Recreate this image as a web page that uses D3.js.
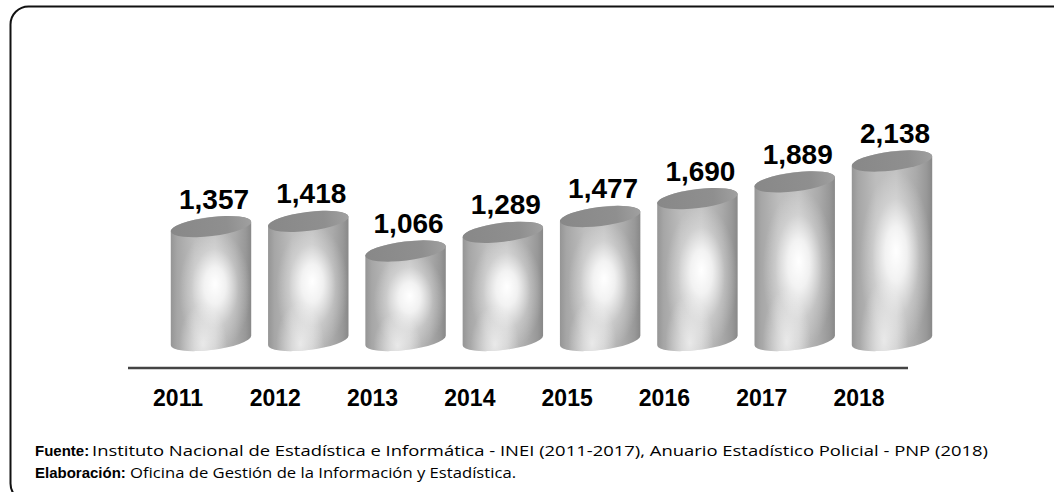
<!DOCTYPE html>
<html><head><meta charset="utf-8">
<script src="https://cdn.jsdelivr.net/npm/d3@7"></script>
<style>html,body{margin:0;padding:0;background:#fff;overflow:hidden}</style>
</head><body>
<svg id="chart" width="1054" height="492"></svg>
<script>
const years = ["2011","2012","2013","2014","2015","2016","2017","2018"];
const values = [1357, 1418, 1066, 1289, 1477, 1690, 1889, 2138];
const sourceLabel = "Fuente:";
const sourceText = "Instituto Nacional de Estadística e Informática - INEI (2011-2017), Anuario Estadístico Policial - PNP (2018)";
const creditLabel = "Elaboración:";
const creditText = "Oficina de Gestión de la Información y Estadística.";

const svg = d3.select("#chart");

// frame
svg.append("rect").attr("x",10.5).attr("y",6.5).attr("width",1070).attr("height",495)
  .attr("rx",18).attr("ry",18).attr("fill","none").attr("stroke","#111").attr("stroke-width",2);

const x = d3.scalePoint().domain(years).range([211, 892]);
const y = d3.scaleLinear().domain([0, 2500]).range([340.5, 130.6]);

const defs = svg.append("defs");
const bodyG = defs.append("linearGradient").attr("id","bodyG").attr("x1",0).attr("x2",1).attr("y1",0).attr("y2",0);
[[0,"#959595"],[0.08,"#a6a6a6"],[0.3,"#bdbdbd"],[0.55,"#c2c2c2"],[0.8,"#aaaaaa"],[0.93,"#989898"],[1,"#888888"]]
  .forEach(s=>bodyG.append("stop").attr("offset",s[0]).attr("stop-color",s[1]));
const hl = defs.append("radialGradient").attr("id","hl").attr("cx",0.55).attr("cy",0.55).attr("r",0.45).attr("fx",0.55).attr("fy",0.5);
[[0,"#ffffff",1],[0.3,"#ffffff",0.8],[0.65,"#ffffff",0.25],[1,"#ffffff",0]]
  .forEach(s=>hl.append("stop").attr("offset",s[0]).attr("stop-color",s[1]).attr("stop-opacity",s[2]));
const hl2 = defs.append("radialGradient").attr("id","hl2").attr("cx",0.4).attr("cy",0.95).attr("r",0.3);
[[0,"#ffffff",0.65],[1,"#ffffff",0]]
  .forEach(s=>hl2.append("stop").attr("offset",s[0]).attr("stop-color",s[1]).attr("stop-opacity",s[2]));
const topG = defs.append("linearGradient").attr("id","topG").attr("x1",0).attr("x2",1).attr("y1",0).attr("y2",0);
[[0,"#888888"],[0.7,"#8f8f8f"],[1,"#a0a0a0"]]
  .forEach(s=>topG.append("stop").attr("offset",s[0]).attr("stop-color",s[1]));

const rx = 40.5, ry = 9.5, phiDeg = -7, phi = phiDeg*Math.PI/180;
function pt(cx, cy, t){
  return [cx + rx*Math.cos(t)*Math.cos(phi) - ry*Math.sin(t)*Math.sin(phi),
          cy + rx*Math.cos(t)*Math.sin(phi) + ry*Math.sin(t)*Math.cos(phi)];
}
const tR = Math.atan(-ry*Math.sin(phi)/(rx*Math.cos(phi)));
const tL = tR + Math.PI;

const g = svg.append("g");
years.forEach((yr,i)=>{
  const cx = x(yr), cyT = y(values[i]), cyB = y(0);
  const tl = pt(cx,cyT,tL), tr = pt(cx,cyT,tR), bl = pt(cx,cyB,tL), br = pt(cx,cyB,tR);
  const d = `M${tl[0]},${tl[1]} L${bl[0]},${bl[1]} A${rx},${ry} ${phiDeg} 0 0 ${br[0]},${br[1]} L${tr[0]},${tr[1]} A${rx},${ry} ${phiDeg} 0 0 ${tl[0]},${tl[1]} Z`;
  const c = g.append("g");
  c.append("path").attr("d",d).attr("fill","url(#bodyG)");
  c.append("path").attr("d",d).attr("fill","url(#hl)");
  c.append("path").attr("d",d).attr("fill","url(#hl2)");
  c.append("ellipse").attr("cx",cx).attr("cy",cyT).attr("rx",rx).attr("ry",ry)
    .attr("transform",`rotate(${phiDeg},${cx},${cyT})`).attr("fill","url(#topG)");
  svg.append("text").attr("x",cx+3).attr("y",cyT-18).attr("text-anchor","middle")
    .attr("font-family","Liberation Sans, Arial, sans-serif").attr("font-weight","bold")
    .attr("font-size",28).attr("fill","#000").text(d3.format(",")(values[i]));
});

// baseline
svg.append("line").attr("x1",128).attr("x2",908).attr("y1",368).attr("y2",368)
  .attr("stroke","#444").attr("stroke-width",2.5);

// year labels
svg.append("g").selectAll("text").data(years).join("text")
  .attr("x",d=>x(d)-33).attr("y",406).attr("text-anchor","middle")
  .attr("font-family","Liberation Sans, Arial, sans-serif").attr("font-weight","bold")
  .attr("font-size",23).attr("fill","#000").text(d=>d);

// footer
function footer(label, text, yy, x0, x1){
  svg.append("text").attr("x",35).attr("y",yy).attr("font-size",15)
    .attr("font-family","Liberation Sans, Arial, sans-serif").attr("font-weight","bold")
    .attr("fill","#000").text(label);
  svg.append("text").attr("x",x0).attr("y",yy).attr("font-size",15)
    .attr("font-family","Open Sans, sans-serif").attr("fill","#000")
    .attr("textLength",x1-x0).attr("lengthAdjust","spacingAndGlyphs").text(text);
}
footer(sourceLabel, sourceText, 456, 92, 988);
footer(creditLabel, creditText, 478, 130, 516);
</script>
</body></html>
